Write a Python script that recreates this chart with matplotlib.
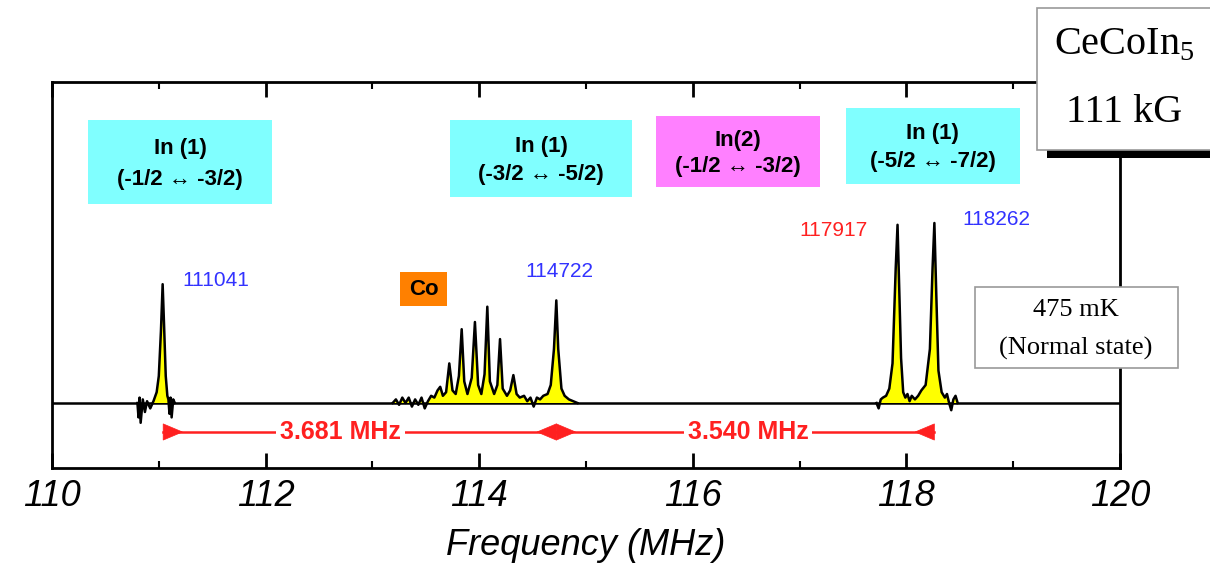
import matplotlib
matplotlib.use("Agg")
import matplotlib.pyplot as plt
from matplotlib.patches import Rectangle, Polygon
import numpy as np

# ---------------- data ----------------
seg1_f = [110.80, 110.81, 110.82, 110.83, 110.85, 110.87, 110.89, 110.92, 110.95, 110.98,
          111.00, 111.02, 111.036, 111.05, 111.065, 111.08, 111.09, 111.10, 111.11, 111.12,
          111.135, 111.15]
seg1_i = [0.0, -0.08, 0.03, -0.11, 0.02, -0.05, 0.01, -0.03, 0.01, 0.06,
          0.15, 0.40, 0.66, 0.42, 0.15, 0.04, 0.02, -0.06, 0.03, -0.08,
          0.02, 0.0]

seg2_f = [113.19, 113.22, 113.25, 113.28, 113.31, 113.34, 113.37, 113.40, 113.43, 113.46,
          113.49, 113.52, 113.55, 113.58, 113.61, 113.635, 113.66, 113.69, 113.72, 113.75,
          113.78, 113.81, 113.836, 113.86, 113.89, 113.93, 113.96, 113.99, 114.02, 114.05,
          114.076, 114.10, 114.14, 114.17, 114.195, 114.22, 114.26, 114.29, 114.32, 114.35,
          114.38, 114.42, 114.45, 114.48, 114.51, 114.54, 114.57, 114.60, 114.64, 114.67,
          114.70, 114.722, 114.74, 114.77, 114.80, 114.84, 114.88, 114.92]
seg2_i = [0.0, 0.02, -0.01, 0.03, 0.0, 0.03, -0.02, 0.02, -0.01, 0.03,
          -0.03, 0.01, 0.04, 0.03, 0.07, 0.09, 0.04, 0.06, 0.22, 0.07,
          0.05, 0.15, 0.41, 0.12, 0.05, 0.14, 0.45, 0.10, 0.05, 0.16,
          0.535, 0.12, 0.05, 0.10, 0.355, 0.08, 0.04, 0.07, 0.155, 0.05,
          0.03, 0.04, 0.01, 0.03, -0.02, 0.03, 0.02, 0.04, 0.05, 0.10,
          0.30, 0.57, 0.30, 0.08, 0.04, 0.02, 0.01, 0.0]

seg3_f = [117.72, 117.74, 117.76, 117.78, 117.81, 117.84, 117.87, 117.90, 117.917, 117.93,
          117.95, 117.97, 117.99, 118.01, 118.03, 118.05, 118.08, 118.11, 118.14, 118.18,
          118.22, 118.245, 118.262, 118.28, 118.30, 118.33, 118.36, 118.38, 118.40, 118.42,
          118.44, 118.46, 118.48]
seg3_i = [0.0, -0.03, 0.02, 0.03, 0.04, 0.08, 0.22, 0.75, 0.99, 0.70,
          0.25, 0.06, 0.03, 0.05, 0.01, 0.04, 0.02, 0.04, 0.07, 0.10,
          0.30, 0.75, 1.0, 0.60, 0.18, 0.06, 0.03, 0.05, 0.0, -0.04,
          0.02, 0.04, 0.0]

segments = [(seg1_f, seg1_i), (seg2_f, seg2_i), (seg3_f, seg3_i)]

# transition label boxes: (x0, x1, y0, y1, colour, line1, line2)
box_x0 = [110.34, 113.73, 115.66, 117.43]
box_x1 = [112.06, 115.43, 117.19, 119.06]
box_y0 = [1.106, 1.144, 1.200, 1.217]
box_y1 = [1.572, 1.572, 1.594, 1.639]
box_col = ["#80FFFF", "#80FFFF", "#FF80FF", "#80FFFF"]
box_l1 = ["In (1)", "In (1)", "In(2)", "In (1)"]
box_l2 = ["(-1/2 \u2194 -3/2)", "(-3/2 \u2194 -5/2)", "(-1/2 \u2194 -3/2)", "(-5/2 \u2194 -7/2)"]

# peak frequency labels
peak_lab = ["111041", "114722", "117917", "118262"]
peak_lab_x = [111.22, 114.43, 117.00, 118.52]
peak_lab_y = [0.683, 0.728, 0.96, 1.017]
peak_lab_c = ["#3333FF", "#3333FF", "#FF2020", "#3333FF"]

# splitting arrows
arr_start = [111.041, 114.722]
arr_end = [114.722, 118.262]
arr_lab = ["3.681 MHz", "3.540 MHz"]
arr_lab_x = [112.70, 116.52]
arr_y = -0.161

xticks_major = [110, 112, 114, 116, 118, 120]
xticks_minor = [111, 113, 115, 117, 119]

# ---------------- figure ----------------
W, H = 1210, 567
fig = plt.figure(figsize=(W / 100, H / 100), dpi=100)
ax = fig.add_axes([52 / W, 1 - 468 / H, (1120 - 52) / W, (468 - 82) / H])
ax.set_xlim(110, 120)
ax.set_ylim(-65 / 180, 321 / 180)

sans = ["Liberation Sans", "DejaVu Sans"]
serif = ["Liberation Serif", "DejaVu Serif"]

ax.axhline(0, color="black", lw=1.8, zorder=2)
for f, i in segments:
    f = np.array(f); i = np.array(i)
    ax.fill_between(f, i, 0, where=i > 0, interpolate=True, color="#FFFF00", zorder=3, lw=0)
    ax.plot(f, i, color="black", lw=1.8, zorder=4)

for x0, x1, y0, y1, c, l1, l2 in zip(box_x0, box_x1, box_y0, box_y1, box_col, box_l1, box_l2):
    ax.add_patch(Rectangle((x0, y0), x1 - x0, y1 - y0, facecolor=c, edgecolor="none", zorder=3))
    cx = (x0 + x1) / 2
    ax.text(cx, y0 + (y1 - y0) * 0.66, l1, ha="center", va="center", fontsize=16,
            fontweight="bold", family=sans, zorder=4)
    ax.text(cx, y0 + (y1 - y0) * 0.29, l2, ha="center", va="center", fontsize=16,
            fontweight="bold", family=sans, zorder=4)

# Co box
ax.add_patch(Rectangle((113.26, 0.539), 0.44, 0.189, facecolor="#FF8000", edgecolor="none", zorder=3))
ax.text(113.48, 0.633, "Co", ha="center", va="center", fontsize=16, fontweight="bold",
        family=sans, zorder=4)

for t, x, y, c in zip(peak_lab, peak_lab_x, peak_lab_y, peak_lab_c):
    ax.text(x, y, t, ha="left", va="center", fontsize=15, color=c, family=sans, zorder=4)

red = "#FF2020"
tw, th = 0.18, 0.045
for s, e, lab, lx in zip(arr_start, arr_end, arr_lab, arr_lab_x):
    ax.plot([s, e], [arr_y, arr_y], color=red, lw=1.8, zorder=3)
    ax.add_patch(Polygon([(s, arr_y - th), (s, arr_y + th), (s + tw, arr_y)], closed=True,
                         facecolor=red, edgecolor=red, lw=0.5, zorder=4))
    ax.add_patch(Polygon([(e, arr_y - th), (e, arr_y + th), (e - tw, arr_y)], closed=True,
                         facecolor=red, edgecolor=red, lw=0.5, zorder=4))
    ax.text(lx, arr_y, lab, ha="center", va="center", fontsize=18, fontweight="bold",
            color=red, family=sans, zorder=5,
            bbox=dict(boxstyle="square,pad=0.15", fc="white", ec="none"))

# axes styling
for sp in ax.spines.values():
    sp.set_linewidth(2.0)
ax.set_yticks([])
ax.set_xticks(xticks_major)
ax.set_xticks(xticks_minor, minor=True)
ax.tick_params(axis="x", which="major", direction="in", length=11, width=2, top=True,
               pad=8)
ax.tick_params(axis="x", which="minor", direction="in", length=5, width=1.5, top=True)
ax.set_xticklabels([str(t) for t in xticks_major], fontsize=26, style="italic", family=sans)
ax.set_xlabel("Frequency (MHz)", fontsize=26, style="italic", family=sans, labelpad=10)

# Top-right title box with shadow
bx0, by0, bx1, by1 = 1037, 8, 1216, 150
fig.patches.append(Rectangle(((bx0 + 10) / W, 1 - (by1 + 8) / H), (bx1 - bx0) / W, (by1 - by0) / H,
                             transform=fig.transFigure, facecolor="black", edgecolor="none", zorder=5))
fig.patches.append(Rectangle((bx0 / W, 1 - by1 / H), (bx1 - bx0) / W, (by1 - by0) / H,
                             transform=fig.transFigure, facecolor="white", edgecolor="#999999",
                             lw=1.2, zorder=6))
fig.text(1124 / W, 1 - 45 / H, "CeCoIn$_\\mathregular{5}$", ha="center", va="center",
         fontsize=29, family=serif, zorder=7)
fig.text(1124 / W, 1 - 113 / H, "111 kG", ha="center", va="center", fontsize=29,
         family=serif, zorder=7)

# temperature box
tx0, ty0, tx1, ty1 = 975, 287, 1178, 368
fig.patches.append(Rectangle((tx0 / W, 1 - ty1 / H), (tx1 - tx0) / W, (ty1 - ty0) / H,
                             transform=fig.transFigure, facecolor="white", edgecolor="#999999",
                             lw=1.2, zorder=6))
fig.text(1076 / W, 1 - 310 / H, "475 mK", ha="center", va="center", fontsize=19,
         family=serif, zorder=7)
fig.text(1076 / W, 1 - 348 / H, "(Normal state)", ha="center", va="center", fontsize=19,
         family=serif, zorder=7)

fig.savefig("out.png", dpi=100)
